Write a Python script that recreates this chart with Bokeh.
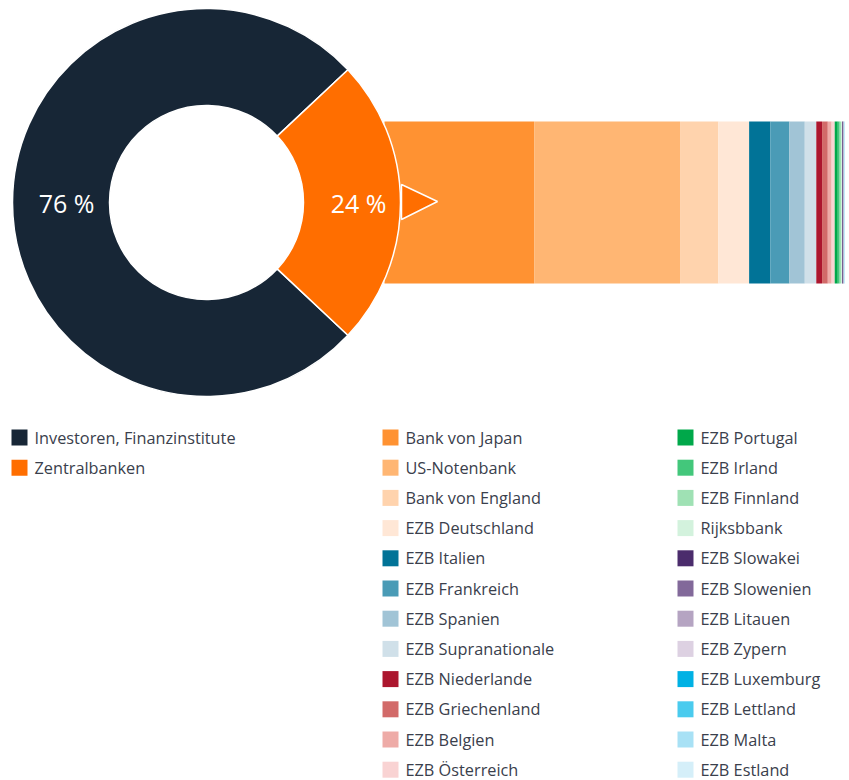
import numpy as np
from bokeh.plotting import figure
from bokeh.models import Range1d, ColumnDataSource
from bokeh.core.properties import value
from bokeh.embed import file_html
from bokeh.resources import INLINE

# ---------------- data ----------------
pie_labels = ["Investoren, Finanzinstitute", "Zentralbanken"]
pie_values = [76, 24]
pie_colors = ["#172636", "#FF6E00"]

bar_labels = [
    "Bank von Japan", "US-Notenbank", "Bank von England", "EZB Deutschland",
    "EZB Italien", "EZB Frankreich", "EZB Spanien", "EZB Supranationale",
    "EZB Niederlande", "EZB Griechenland", "EZB Belgien", "EZB Österreich",
    "EZB Portugal", "EZB Irland", "EZB Finnland", "Rijksbbank",
    "EZB Slowakei", "EZB Slowenien", "EZB Litauen", "EZB Zypern",
    "EZB Luxemburg", "EZB Lettland", "EZB Malta", "EZB Estland",
]
bar_values = [
    7.8, 7.6, 2.0, 1.6,
    1.1, 1.0, 0.8, 0.6,
    0.3, 0.3, 0.2, 0.16,
    0.16, 0.1, 0.07, 0.05,
    0.04, 0.03, 0.02, 0.01,
    0.01, 0.01, 0.005, 0.005,
]
bar_colors = [
    "#FF9232", "#FFB673", "#FFD3AD", "#FFE7D6",
    "#017397", "#4A9BB6", "#A1C4D6", "#D0E0E9",
    "#AC162E", "#D26A69", "#EEABA7", "#F9D3D3",
    "#00A84A", "#43C77B", "#9FE1B4", "#D3F2DD",
    "#4B2C6C", "#82699A", "#B5A4C2", "#DDD1E2",
    "#00B1E4", "#4ACBEE", "#A8E1F5", "#D5EFF9",
]

# ---------------- layout ----------------
W, H = 849, 780


def fx(xp):
    return xp


def fy(yp):
    return H - yp


p = figure(width=W, height=H, x_range=Range1d(0, W), y_range=Range1d(0, H),
           output_backend="svg", toolbar_location=None, min_border=0)
p.axis.visible = False
p.grid.visible = False
p.outline_line_color = None
p.background_fill_color = "white"
p.border_fill_color = "white"

# ---------------- stacked bar ----------------
total = float(sum(bar_values))
px0, px1 = fx(384), fx(844)
scale = total / (px1 - px0)
p.extra_x_ranges["bar"] = Range1d(start=-px0 * scale, end=(W - px0) * scale)
cum = np.cumsum([0.0] + bar_values)
bar_src = ColumnDataSource(dict(left=cum[:-1], right=cum[1:], color=bar_colors,
                                name=bar_labels))
p.quad(left="left", right="right", top=fy(121), bottom=fy(283), color="color",
       line_color=None, source=bar_src, x_range_name="bar")

# ---------------- donut ----------------
cx, cy = fx(206), fy(202)
r_out, r_in = 194, 97
frac = np.array(pie_values, dtype=float) / sum(pie_values)
offset = np.pi * frac[1]   # orange slice centred at 0 rad
ang = offset + np.concatenate([[0.0], np.cumsum(frac)]) * 2 * np.pi
pie_src = ColumnDataSource(dict(start=ang[:-1], end=ang[1:], color=pie_colors))
p.annular_wedge(x=cx, y=cy, inner_radius=r_in, outer_radius=r_out,
                start_angle="start", end_angle="end", fill_color="color",
                line_color="white", line_width=1.5, source=pie_src)

# pointer triangle
p.patch(x=[fx(401), fx(437), fx(401)], y=[fy(184), fy(201), fy(219)],
        fill_color="#FF6E00", fill_alpha=1.0, line_color="white", line_width=1.5)

mid = (ang[:-1] + ang[1:]) / 2
lab_r, lab_dx = 146, 6
lab_src = ColumnDataSource(dict(
    x=cx + lab_dx + lab_r * np.cos(mid), y=cy + lab_r * np.sin(mid),
    t=[f"{v} %" for v in pie_values]))
p.text(x="x", y="y", text="t", source=lab_src, text_color="white",
       text_font=value("Open Sans"), text_font_size="25px",
       text_align="center", text_baseline="middle")

# ---------------- legend ----------------
row0, row_h, sq = 437, 30.2, 16
text_color = "#3a404c"
cols = [
    (11, 34, pie_labels, pie_colors),
    (382, 405, bar_labels[:12], bar_colors[:12]),
    (677, 700, bar_labels[12:], bar_colors[12:]),
]
for sq_left, txt_left, names, colors in cols:
    n = len(names)
    ys = [fy(row0 + i * row_h) for i in range(n)]
    src = ColumnDataSource(dict(x=[fx(sq_left) + sq / 2] * n, tx=[fx(txt_left)] * n,
                                y=ys, name=names, color=colors))
    p.rect(x="x", y="y", width=sq, height=sq, fill_color="color", line_color=None,
           source=src)
    p.text(x="tx", y="y", text="name", source=src, text_color=text_color,
           text_font=value("Open Sans"), text_font_size="16.3px",
           text_align="left", text_baseline="middle")

open("out.html", "w").write(file_html(p, INLINE))
